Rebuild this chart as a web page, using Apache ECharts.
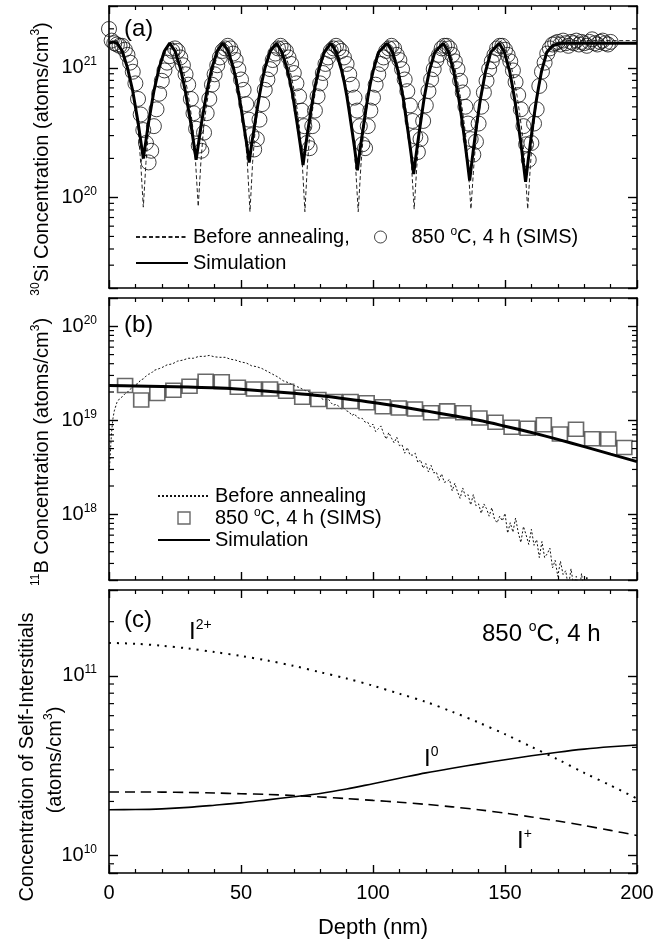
<!DOCTYPE html>
<html>
<head>
<meta charset="utf-8">
<script src="https://cdn.jsdelivr.net/npm/echarts@6.0.0/dist/echarts.min.js"></script>
<style>
html, body { margin: 0; padding: 0; background: #fff; }
#chart { width: 662px; height: 945px; }
</style>
</head>
<body>
<div id="chart"></div>
<script>
// all concentrations below are stored as log10(atoms/cm3), depth in nm

// (a) 30Si, before annealing (dashed)
var siBeforeLog = [
  [0,21.19],[1.5,21.21],[3,21.21],[5,21.14],[7,21.01],[8,20.92],[9,20.82],[10,20.69],[11,20.53],[12,20.27],[13,19.925],[14,20.27],[15,20.53],[16,20.69],[17,20.82],[18,20.92],[19,21.01],[21,21.14],
  [23.8,21.21],[25.8,21.14],[27.8,21.01],[28.8,20.92],[29.8,20.82],[30.8,20.69],[31.8,20.53],[32.8,20.27],[33.8,19.93],[34.8,20.27],[35.8,20.53],[36.8,20.69],[37.8,20.82],[38.8,20.92],[39.8,21.01],[41.8,21.14],
  [43.4,21.21],[45.4,21.14],[47.4,21.01],[48.4,20.92],[49.4,20.82],[50.4,20.69],[51.4,20.53],[52.4,20.27],[53.4,19.89],[54.4,20.27],[55.4,20.53],[56.4,20.69],[57.4,20.82],[58.4,20.92],[59.4,21.01],[61.4,21.14],
  [64.2,21.21],[66.2,21.14],[68.2,21.01],[69.2,20.92],[70.2,20.82],[71.2,20.69],[72.2,20.53],[73.2,20.27],[74.2,19.89],[75.2,20.27],[76.2,20.53],[77.2,20.69],[78.2,20.82],[79.2,20.92],[80.2,21.01],[82.2,21.14],
  [84.4,21.21],[86.4,21.13],[88.4,21.0],[89.4,20.9],[90.4,20.79],[91.4,20.66],[92.4,20.5],[93.4,20.24],[94.4,19.89],[95.4,20.24],[96.4,20.5],[97.4,20.66],[98.4,20.79],[99.4,20.9],[100.4,21.0],[102.4,21.13],
  [105.6,21.21],[107.6,21.13],[109.6,21.0],[110.6,20.9],[111.6,20.79],[112.6,20.66],[113.6,20.5],[114.6,20.24],[115.6,19.91],[116.6,20.24],[117.6,20.5],[118.6,20.66],[119.6,20.79],[120.6,20.9],[121.6,21.0],[123.6,21.13],
  [127.1,21.21],[129.1,21.13],[131.1,20.99],[132.1,20.89],[133.1,20.78],[134.1,20.64],[135.1,20.48],[136.1,20.22],[137.1,19.91],[138.1,20.22],[139.1,20.48],[140.1,20.64],[141.1,20.78],[142.1,20.89],[143.1,20.99],[145.1,21.13],
  [148.6,21.21],[150.6,21.13],[152.6,20.99],[153.6,20.89],[154.6,20.78],[155.6,20.64],[156.6,20.48],[157.6,20.22],[158.6,19.91],[159.6,20.24],[160.6,20.5],[161.6,20.68],[162.6,20.82],[163.6,20.93],[164.6,21.02],[166.6,21.14],[169,21.19],[172,21.21],[200,21.21]
];

// (a) 850 C, 4 h SIMS (circles)
var siSimsLog = [
  [0,21.30],[1,21.21],[2,21.19],[3,21.18],[4,21.17],[5,21.17],[6,21.14],[7,21.10],[8,21.04],[9,20.97],
  [10,20.88],[11,20.76],[12,20.64],[13,20.52],[14,20.42],[15,20.27],[16,20.36],[17,20.55],[18,20.68],[19,20.80],
  [20,20.90],[21,20.98],[22,21.04],[23,21.09],[24,21.13],[25,21.15],[26,21.13],[27,21.08],[28,21.02],[29,20.95],
  [30,20.87],[31,20.76],[32,20.65],[33,20.53],[34,20.40],[35,20.36],[36,20.50],[37,20.65],[38,20.76],[39,20.87],
  [40,20.95],[41,21.02],[42,21.08],[43,21.13],[44,21.15],[45,21.17],[46,21.15],[47,21.11],[48,21.06],[49,20.99],
  [50,20.91],[51,20.83],[52,20.72],[53,20.60],[54,20.48],[55,20.37],[56,20.45],[57,20.60],[58,20.72],[59,20.83],
  [60,20.91],[61,20.99],[62,21.06],[63,21.11],[64,21.15],[65,21.17],[66,21.15],[67,21.13],[68,21.08],[69,21.03],
  [70,20.96],[71,20.88],[72,20.78],[73,20.67],[74,20.55],[75,20.42],[76,20.38],[77,20.55],[78,20.67],[79,20.78],
  [80,20.88],[81,20.96],[82,21.03],[83,21.08],[84,21.13],[85,21.15],[86,21.17],[87,21.15],[88,21.13],[89,21.08],
  [90,21.03],[91,20.95],[92,20.87],[93,20.77],[94,20.67],[95,20.55],[96,20.41],[97,20.38],[98,20.55],[99,20.67],
  [100,20.77],[101,20.87],[102,20.95],[103,21.03],[104,21.08],[105,21.13],[106,21.15],[107,21.17],[108,21.15],[109,21.10],
  [110,21.06],[111,20.99],[112,20.91],[113,20.82],[114,20.71],[115,20.59],[116,20.47],[117,20.35],[118,20.45],[119,20.59],
  [120,20.71],[121,20.82],[122,20.91],[123,20.99],[124,21.06],[125,21.10],[126,21.15],[127,21.17],[128,21.17],[129,21.15],
  [130,21.10],[131,21.05],[132,20.99],[133,20.90],[134,20.81],[135,20.70],[136,20.57],[137,20.45],[138,20.33],[139,20.43],
  [140,20.57],[141,20.70],[142,20.81],[143,20.90],[144,20.99],[145,21.05],[146,21.10],[147,21.15],[148,21.17],[149,21.17],
  [150,21.14],[151,21.10],[152,21.05],[153,20.98],[154,20.89],[155,20.79],[156,20.68],[157,20.55],[158,20.41],[159,20.29],
  [160,20.42],[161,20.57],[162,20.68],[163,20.86],[164,20.97],[165,21.04],[166,21.11],[167,21.15],[168,21.18],[169,21.19],
  [170,21.20],[171,21.18],[172,21.21],[173,21.19],[174,21.17],[175,21.20],[176,21.19],[177,21.21],[178,21.18],[179,21.20],
  [180,21.19],[181,21.17],[182,21.20],[183,21.22],[184,21.19],[185,21.18],[186,21.20],[187,21.21],[188,21.19],[189,21.18],[190,21.20]
];

// (a) simulation (thick solid)
var siSimLog = [
  [0,21.19],[1.5,21.2],[3,21.19],[5,21.13],[7,21.0],[8,20.91],[9,20.82],[10,20.70],[11,20.58],[12,20.44],[13,20.30],[14,20.44],[15,20.58],[16,20.70],[17,20.82],[18,20.91],[19,21.0],[21,21.13],
  [23,21.19],[25,21.13],[27,21.0],[28,20.91],[29,20.81],[30,20.69],[31,20.57],[32,20.43],[33,20.29],[34,20.43],[35,20.57],[36,20.69],[37,20.81],[38,20.91],[39,21.0],[41,21.13],
  [43.1,21.19],[45.1,21.13],[47.1,21.0],[48.1,20.91],[49.1,20.80],[50.1,20.68],[51.1,20.55],[52.1,20.42],[53.1,20.27],[54.1,20.42],[55.1,20.55],[56.1,20.68],[57.1,20.80],[58.1,20.91],[59.1,21.0],[61.1,21.13],
  [63.5,21.19],[65.5,21.12],[67.5,20.99],[68.5,20.90],[69.5,20.80],[70.5,20.67],[71.5,20.54],[72.5,20.40],[73.5,20.25],[74.5,20.40],[75.5,20.54],[76.5,20.67],[77.5,20.80],[78.5,20.90],[79.5,20.99],[81.5,21.12],
  [84.1,21.19],[86.1,21.12],[88.1,20.98],[89.1,20.89],[90.1,20.78],[91.1,20.65],[92.1,20.51],[93.1,20.37],[94.1,20.21],[95.1,20.37],[96.1,20.51],[97.1,20.65],[98.1,20.78],[99.1,20.89],[100.1,20.98],[102.1,21.12],
  [105.4,21.19],[107.4,21.12],[109.4,20.98],[110.4,20.88],[111.4,20.77],[112.4,20.63],[113.4,20.49],[114.4,20.34],[115.4,20.18],[116.4,20.34],[117.4,20.49],[118.4,20.63],[119.4,20.77],[120.4,20.88],[121.4,20.98],[123.4,21.12],
  [126.6,21.19],[128.6,21.12],[130.6,20.97],[131.6,20.86],[132.6,20.75],[133.6,20.61],[134.6,20.46],[135.6,20.30],[136.6,20.13],[137.6,20.30],[138.6,20.46],[139.6,20.61],[140.6,20.75],[141.6,20.86],[142.6,20.97],[144.6,21.12],
  [147.8,21.19],[149.8,21.12],[151.8,20.97],[152.8,20.86],[153.8,20.74],[154.8,20.60],[155.8,20.45],[156.8,20.29],[157.8,20.12],[158.8,20.29],[159.8,20.45],[160.8,20.60],[161.8,20.74],[162.8,20.86],[163.8,20.97],[165.8,21.12],[168,21.17],[171,21.19],[200,21.19]
];

// (b) 11B, before annealing (noisy dotted profile)
var bBeforeLog = [
  [0.2,18.5],[0.7,18.75],[1,18.88],[1.5,19.02],[2,19.1],[3,19.19],[4,19.23],[5,19.25],[6,19.28],[7,19.3],[8,19.33],[9,19.35],[10,19.38],
  [11,19.39],[12,19.43],[13,19.44],[14,19.47],[15,19.49],[16,19.5],[17,19.53],[18,19.54],[19,19.55],[20,19.56],[22,19.59],[24,19.6],
  [26,19.63],[28,19.64],[30,19.66],[32,19.66],[34,19.68],[36,19.68],[38,19.69],[40,19.675],[42,19.67],[44,19.67],[46,19.65],[48,19.64],
  [50,19.62],[52,19.61],[54,19.58],[56,19.57],[58,19.55],[60,19.52],[62,19.49],[64,19.46],[66,19.42],[68,19.40],[70,19.37],[72,19.35],
  [74,19.32],[76,19.30],[78,19.27],[80,19.26],[81,19.22],[82,19.22],[83,19.23],[84,19.19],[85,19.16],[86,19.17],[87,19.15],[88,19.12],
  [89,19.13],[90,19.10],[91,19.09],[92,19.05],[93,19.07],[94,19.03],[95,19.02],[96,19.02],[97,18.98],[98,18.98],[99,18.93],[100,18.96],
  [101,18.88],[102,18.91],[103,18.94],[104,18.86],[105,18.80],[106,18.87],[107,18.81],[108,18.76],[109,18.82],[110,18.73],[111,18.74],
  [112,18.65],[113,18.71],[114,18.63],[115,18.63],[116,18.65],[117,18.55],[118,18.58],[119,18.49],[120,18.54],[121,18.45],[122,18.52],
  [123,18.44],[124,18.45],[125,18.36],[126,18.43],[127,18.34],[128,18.35],[129,18.37],[130,18.25],[131,18.33],[132,18.24],[133,18.17],
  [134,18.28],[135,18.19],[136,18.21],[137,18.10],[138,18.21],[139,18.09],[140,18.11],[141,18.01],[142,18.11],[143,18.06],[144,17.98],
  [145,18.07],[146,17.95],[147,17.91],[148,17.98],[149,17.93],[150,18.01],[151,17.80],[152,17.91],[153,17.81],[154,17.96],[155,17.81],
  [156,17.70],[157,17.87],[158,17.78],[159,17.68],[160,17.84],[161,17.67],[162,17.73],[163,17.54],[164,17.71],[165,17.54],[166,17.58],
  [167,17.64],[168,17.43],[169,17.51],[170,17.34],[171,17.50],[172,17.36],[173,17.40],[174,17.22],[175,17.42],[176,17.24],[177,17.34],
  [178,17.16],[179,17.37],[180,17.16],[181,17.34],[182,17.12]
];

// (b) 850 C, 4 h SIMS (squares)
var bSimsLog = [
  [6.1,19.37],[12.2,19.215],[18.3,19.285],[24.4,19.32],[30.5,19.363],[36.6,19.416],[42.7,19.41],[48.8,19.352],
  [54.9,19.333],[61.0,19.333],[67.1,19.31],[73.2,19.245],[79.3,19.222],[85.4,19.2],[91.5,19.2],[97.6,19.187],
  [103.7,19.145],[109.8,19.13],[115.9,19.12],[122.0,19.08],[128.1,19.10],[134.2,19.08],[140.3,19.025],[146.4,18.98],
  [152.5,18.925],[158.6,18.915],[164.7,18.952],[170.8,18.855],[176.9,18.905],[183.0,18.803],[189.1,18.8],[195.2,18.71]
];

// depth grid used by the smooth simulated curves of (b) and (c)
var simDepth = [0,10,20,30,40,50,60,70,80,90,100,110,120,130,140,150,160,170,180,190,200];
var bSimLog = [19.37,19.366,19.36,19.353,19.345,19.33,19.31,19.287,19.26,19.227,19.19,19.147,19.1,19.05,19.0,18.937,18.87,18.797,18.72,18.64,18.56];

// (c) self-interstitials
var iTwoPlusLog = [11.183,11.178,11.167,11.152,11.132,11.11,11.085,11.055,11.02,10.985,10.945,10.9,10.855,10.8,10.74,10.675,10.605,10.535,10.46,10.39,10.317];
var iZeroLog = [10.255,10.256,10.26,10.268,10.28,10.293,10.31,10.327,10.345,10.37,10.4,10.43,10.46,10.486,10.51,10.533,10.555,10.575,10.592,10.605,10.615];
var iPlusLog = [10.354,10.354,10.353,10.351,10.348,10.344,10.34,10.334,10.326,10.317,10.307,10.297,10.285,10.271,10.255,10.236,10.215,10.192,10.167,10.14,10.112];

// y ranges and minor log ticks
var yRanges = [[2e19, 3e21], [2e17, 2e20], [8e9, 3e11]];
var minorTicksA = [3e19,4e19,5e19,6e19,7e19,8e19,9e19,2e20,3e20,4e20,5e20,6e20,7e20,8e20,9e20,2e21];
var minorTicksB = [3e17,4e17,5e17,6e17,7e17,8e17,9e17,2e18,3e18,4e18,5e18,6e18,7e18,8e18,9e18,2e19,3e19,4e19,5e19,6e19,7e19,8e19,9e19];
var minorTicksC = [9e9,2e10,3e10,4e10,5e10,6e10,7e10,8e10,9e10,2e11];

var FONT = '"Liberation Sans", Arial, Helvetica, sans-serif';
var SQUARE = 'path://M0,0H10V10H0Z';
var grids = [
  { left: 109, right: 25, top: 6, height: 282 },
  { left: 109, right: 25, top: 298, height: 282 },
  { left: 109, right: 25, top: 590, height: 283 }
];

function fromLog(pairs) {
  return pairs.map(function (p) { return [p[0], Math.pow(10, p[1])]; });
}
function zipLog(xs, logs) {
  return xs.map(function (x, i) { return [x, Math.pow(10, logs[i])]; });
}
function decadeLabel(value) {
  var e = Math.log10(value);
  if (Math.abs(e - Math.round(e)) > 0.01) return '';
  return '10{sup|' + Math.round(e) + '}';
}

var lineColor = '#000';
var xAxes = [], yAxes = [];
for (var g = 0; g < 3; g++) {
  ['bottom', 'top'].forEach(function (pos) {
    xAxes.push({
      type: 'value', gridIndex: g, position: pos, min: 0, max: 200, interval: 50,
      name: (g === 2 && pos === 'bottom') ? 'Depth (nm)' : '',
      nameLocation: 'middle', nameGap: 44,
      nameTextStyle: { fontSize: 22, fontFamily: FONT, color: '#000' },
      axisLine: { show: true, onZero: false, lineStyle: { color: lineColor, width: 1.6 } },
      axisTick: { show: true, inside: true, length: 8, lineStyle: { color: lineColor, width: 1.4 } },
      minorTick: { show: true, splitNumber: 5, length: 4, lineStyle: { color: lineColor, width: 1.2 } },
      axisLabel: { show: g === 2 && pos === 'bottom', margin: 10, fontSize: 20, fontFamily: FONT, color: '#000' },
      splitLine: { show: false }
    });
  });
  ['left', 'right'].forEach(function (pos) {
    yAxes.push({
      type: 'log', logBase: 10, gridIndex: g, position: pos,
      min: yRanges[g][0], max: yRanges[g][1],
      axisLine: { show: true, onZero: false, lineStyle: { color: lineColor, width: 1.6 } },
      axisTick: { show: true, inside: true, length: 9, lineStyle: { color: lineColor, width: 1.4 } },
      axisLabel: {
        show: pos === 'left', margin: 12, formatter: decadeLabel,
        fontSize: 20, fontFamily: FONT, color: '#000', lineHeight: 24,
        rich: { sup: { fontSize: 12, lineHeight: 12, verticalAlign: 'top', fontFamily: FONT, color: '#000' } }
      },
      splitLine: { show: false }
    });
  });
}

function minorTickSeries(gi, ticks) {
  return {
    type: 'custom', xAxisIndex: gi * 2, yAxisIndex: gi * 2, silent: true, z: 10,
    data: ticks.map(function (v) { return [0, v]; }),
    renderItem: function (params, api) {
      var l = api.coord([0, api.value(1)]);
      var r = api.coord([200, api.value(1)]);
      var st = { stroke: '#000', lineWidth: 1.2 };
      return {
        type: 'group',
        children: [
          { type: 'line', shape: { x1: l[0], y1: l[1], x2: l[0] + 5, y2: l[1] }, style: st },
          { type: 'line', shape: { x1: r[0] - 5, y1: r[1], x2: r[0], y2: r[1] }, style: st }
        ]
      };
    }
  };
}

var legendLabels = {
  aBefore: 'Before annealing,',
  aSims: '850 {sup|o}C, 4 h (SIMS)',
  aSim: 'Simulation',
  bBefore: 'Before annealing',
  bSims: '850 {sup|o}C, 4 h (SIMS)',
  bSim: 'Simulation'
};
var legendText = {
  fontSize: 20, fontFamily: FONT, color: '#000', lineHeight: 22,
  rich: { sup: { fontSize: 12, lineHeight: 12, verticalAlign: 'top', fontFamily: FONT, color: '#000' } }
};
function legendBox(items, left, top, border) {
  return {
    data: items, left: left, top: top, orient: 'vertical', padding: 0,
    itemWidth: 52, itemHeight: 12, itemGap: 0,
    selectedMode: false, textStyle: legendText,
    itemStyle: { borderWidth: border },
    formatter: function (n) { return legendLabels[n]; }
  };
}

function txt(x, y, text, size, rotated) {
  var subSize = Math.round(size * 0.6);
  return {
    type: 'text', x: x, y: y, silent: true,
    rotation: rotated ? Math.PI / 2 : 0,
    style: {
      text: text, fontSize: size, fontFamily: FONT, fill: '#000',
      align: rotated ? 'center' : 'left', verticalAlign: 'middle', lineHeight: size + 4,
      rich: { sup: { fontSize: subSize, lineHeight: subSize, verticalAlign: 'top', fontFamily: FONT, fill: '#000' } }
    }
  };
}

// line series carry no symbol, so their legend dot is made invisible
var noDot = { color: 'transparent', borderColor: 'transparent', borderWidth: 0 };

var option = {
  animation: false,
  backgroundColor: '#fff',
  grid: grids,
  xAxis: xAxes,
  yAxis: yAxes,
  legend: [
    legendBox(['aBefore'], 135, 226, 0),
    legendBox(['aSims'], 374, 226, 1),
    legendBox(['aSim'], 135, 252, 0),
    legendBox([{ name: 'bBefore', itemStyle: { borderWidth: 0 } }, 'bSims', { name: 'bSim', itemStyle: { borderWidth: 0 } }], 157, 485, 1.4)
  ],
  graphic: [
    txt(42, 159, '{sup|30}Si Concentration (atoms/cm{sup|3})', 20, true),
    txt(42, 452, '{sup|11}B Concentration (atoms/cm{sup|3})', 20, true),
    txt(27, 757, 'Concentration of Self-Interstitials', 20, true),
    txt(55, 760, '(atoms/cm{sup|3})', 20, true),
    txt(124, 29, '(a)', 24),
    txt(124, 325, '(b)', 24),
    txt(124, 620, '(c)', 24),
    txt(482, 634, '850 {sup|o}C, 4 h', 24),
    txt(189, 632, 'I{sup|2+}', 24),
    txt(424, 759, 'I{sup|0}', 24),
    txt(517, 841, 'I{sup|+}', 24)
  ],
  series: [
    { name: 'aBefore', type: 'line', xAxisIndex: 0, yAxisIndex: 0, data: fromLog(siBeforeLog),
      symbol: 'none', showSymbol: false, z: 2, itemStyle: noDot,
      lineStyle: { color: '#222', width: 1, type: [4, 2.5] } },
    { name: 'aSims', type: 'scatter', xAxisIndex: 0, yAxisIndex: 0, data: fromLog(siSimsLog),
      symbol: 'circle', symbolSize: 15, z: 3,
      itemStyle: { color: 'transparent', borderColor: '#111', borderWidth: 1 } },
    { name: 'aSim', type: 'line', xAxisIndex: 0, yAxisIndex: 0, data: fromLog(siSimLog),
      symbol: 'none', showSymbol: false, z: 4, itemStyle: noDot,
      lineStyle: { color: '#000', width: 3 } },

    { name: 'bBefore', type: 'line', xAxisIndex: 2, yAxisIndex: 2, data: fromLog(bBeforeLog),
      symbol: 'none', showSymbol: false, z: 2, itemStyle: noDot,
      lineStyle: { color: '#111', width: 1, type: [2, 2] } },
    { name: 'bSims', type: 'scatter', xAxisIndex: 2, yAxisIndex: 2, data: fromLog(bSimsLog),
      symbol: SQUARE, symbolSize: [15, 14], z: 3,
      itemStyle: { color: 'transparent', borderColor: '#444', borderWidth: 1.6 } },
    { name: 'bSim', type: 'line', xAxisIndex: 2, yAxisIndex: 2, data: zipLog(simDepth, bSimLog),
      symbol: 'none', showSymbol: false, smooth: 0.3, z: 4, itemStyle: noDot,
      lineStyle: { color: '#000', width: 3 } },

    { name: 'I2+', type: 'line', xAxisIndex: 4, yAxisIndex: 4, data: zipLog(simDepth, iTwoPlusLog),
      symbol: 'none', showSymbol: false, smooth: 0.3,
      lineStyle: { color: '#000', width: 2, type: [2, 6] } },
    { name: 'I0', type: 'line', xAxisIndex: 4, yAxisIndex: 4, data: zipLog(simDepth, iZeroLog),
      symbol: 'none', showSymbol: false, smooth: 0.3,
      lineStyle: { color: '#000', width: 1.6 } },
    { name: 'I+', type: 'line', xAxisIndex: 4, yAxisIndex: 4, data: zipLog(simDepth, iPlusLog),
      symbol: 'none', showSymbol: false, smooth: 0.3,
      lineStyle: { color: '#000', width: 1.6, type: [10, 6] } },

    minorTickSeries(0, minorTicksA),
    minorTickSeries(1, minorTicksB),
    minorTickSeries(2, minorTicksC)
  ]
};

var chart = echarts.init(document.getElementById('chart'), null, { renderer: 'canvas' });
chart.setOption(option);
</script>
</body>
</html>
